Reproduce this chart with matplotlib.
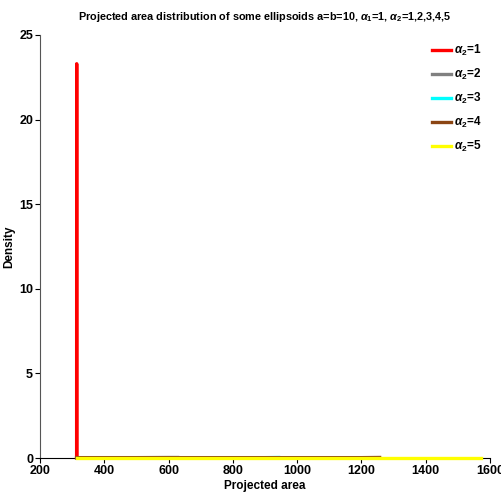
import matplotlib.pyplot as plt

plt.rcParams['font.family'] = ['Liberation Sans', 'DejaVu Sans']
plt.rcParams['font.weight'] = 'bold'
plt.rcParams['mathtext.fontset'] = 'custom'
plt.rcParams['mathtext.rm'] = 'Liberation Sans:bold'
plt.rcParams['mathtext.it'] = 'Liberation Sans:italic:bold'

# densities (all but the sphere lie flat on zero)
x1 = [313.6, 313.9, 314.16, 314.4, 314.7]
y1 = [0.0, 0.0, 23.3, 0.0, 0.0]
x2 = [314.2, 400, 500, 600, 628.3]
y2 = [0.02, 0.02, 0.02, 0.03, 0.03]
x3 = [314.2, 500, 700, 900, 942.5]
y3 = [0.02, 0.02, 0.02, 0.02, 0.03]
x4 = [314.2, 600, 900, 1200, 1256.6]
y4 = [0.02, 0.02, 0.02, 0.02, 0.03]
x5 = [314.2, 600, 1000, 1400, 1570.8]
y5 = [0.02, 0.02, 0.02, 0.02, 0.02]

series = [(x1, y1, 'red'), (x2, y2, 'gray'), (x3, y3, 'cyan'),
          (x4, y4, '#8B4513'), (x5, y5, '#FFFF00')]
labels = [r'$\alpha_2$=%d' % k for k in range(1, 6)]

fig = plt.figure(figsize=(5.02, 4.92), dpi=100)
ax = fig.add_axes([0.0797, 0.0691, 0.8964, 0.8598])

for (xs, ys, c), lab in zip(series, labels):
    ax.plot(xs, ys, color=c, lw=2.4, label=lab, zorder=3, clip_on=False)

ax.set_xlim(200, 1600)
ax.set_ylim(0, 25)
ax.set_xticks(range(200, 1601, 200))
ax.set_yticks(range(0, 26, 5))
ax.spines['top'].set_visible(False)
ax.spines['right'].set_visible(False)
ax.spines['left'].set_color('#555555')
ax.tick_params(labelsize=9, length=3.5, width=0.8, pad=1.5)
ax.set_xlabel('Projected area', fontsize=8.5, fontweight='bold', labelpad=2)
ax.set_ylabel('Density', fontsize=8.5, fontweight='bold', labelpad=3)
ax.set_title(r'Projected area distribution of some ellipsoids a=b=10, $\alpha_1$=1, $\alpha_2$=1,2,3,4,5',
             fontsize=7.8, fontweight='bold', pad=11)

ax.legend(loc='upper right', frameon=False, fontsize=8.5, handlelength=1.6,
          handletextpad=0.3, labelspacing=0.75, borderaxespad=0.3)

fig.savefig('out.png', dpi=100)
